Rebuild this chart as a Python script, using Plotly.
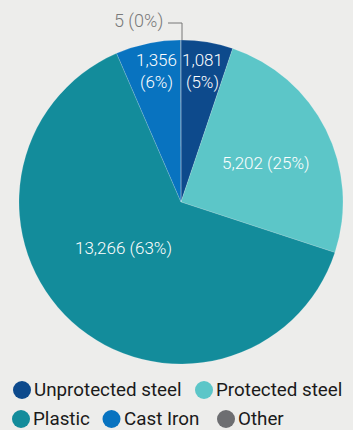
import math
import plotly.graph_objects as go

# Pipe material counts
materials = ["Unprotected steel", "Protected steel", "Plastic", "Cast Iron", "Other"]
counts = [1081, 5202, 13266, 1356, 5]
colors = ["#0d4a8c", "#5cc6c8", "#138c9b", "#0873c0", "#6d6e71"]

W, H = 353, 430
BG = "#ededeb"
FONT = "Roboto"

# Pie placement in pixels
cx, cy, R = 181, 202, 162

# Label placement inside each slice: radial fraction and angular nudge (deg)
label_r = [0.82, 0.58, 0.455, 0.82]
label_nudge = [0, 2, 9, 1.2]
label_two_lines = [True, False, False, True]

fig = go.Figure()
fig.add_trace(go.Pie(
    labels=materials,
    values=counts,
    sort=False,
    direction="clockwise",
    rotation=0,
    marker=dict(colors=colors, line=dict(width=0.5, color="rgba(255,255,255,0.3)")),
    textinfo="none",
    hoverinfo="label+value+percent",
    showlegend=False,
    domain=dict(x=[(cx - R) / W, (cx + R) / W], y=[(H - cy - R) / H, (H - cy + R) / H]),
))

shapes = []
annotations = []

total = sum(counts)

# Value labels placed at each slice's mid angle (clockwise from 12 o'clock)
cum = 0
for i, v in enumerate(counts):
    start = cum
    cum += v
    if i >= len(label_r):
        continue
    mid = (start + cum) / 2 / total * 360 + label_nudge[i]
    rad = math.radians(mid)
    px = cx + label_r[i] * R * math.sin(rad)
    py = cy - label_r[i] * R * math.cos(rad)
    sep = "<br>" if label_two_lines[i] else " "
    txt = f"{v:,}{sep}({v / total:.0%})"
    annotations.append(dict(
        x=px / W, y=1 - py / H, xref="paper", yref="paper",
        xanchor="center", yanchor="middle", showarrow=False,
        text=txt, align="center",
        font=dict(family=FONT, size=17, color="white", weight=300),
    ))

# Callout for the tiny "Other" slice
other_val = counts[-1]
other_txt = f"{other_val:,} ({other_val / total:.0%})"
top_y = cy - R
shapes.append(dict(
    type="path", xref="paper", yref="paper",
    path=f"M {168 / W} {1 - 23 / H} L {(cx + 1) / W} {1 - 23 / H} L {(cx + 1) / W} {1 - top_y / H}",
    line=dict(color="#777777", width=1),
))
annotations.append(dict(
    x=165 / W, y=1 - 21 / H, xref="paper", yref="paper",
    xanchor="right", yanchor="middle", showarrow=False,
    text=other_txt, font=dict(family=FONT, size=18, color="#7a7a7a", weight=300),
))

# Legend drawn as circle markers with labels, two rows
legend_rows = [[0, 1], [2, 3, 4]]
row_y = [390, 419]
row_x = [[22, 204], [21, 111.5, 226]]
r = 9
for ri, row in enumerate(legend_rows):
    for k, idx in enumerate(row):
        x0 = row_x[ri][k]
        y0 = row_y[ri]
        shapes.append(dict(
            type="circle", xref="paper", yref="paper",
            x0=(x0 - r) / W, x1=(x0 + r) / W,
            y0=1 - (y0 + r) / H, y1=1 - (y0 - r) / H,
            fillcolor=colors[idx], line=dict(width=0),
        ))
        annotations.append(dict(
            x=(x0 + r + 1) / W, y=1 - y0 / H, xref="paper", yref="paper",
            xanchor="left", yanchor="middle", showarrow=False,
            text=materials[idx], font=dict(family=FONT, size=18.8, color="#1a1a1a"),
        ))

fig.update_layout(
    width=W, height=H,
    margin=dict(l=0, r=0, t=0, b=0),
    paper_bgcolor=BG, plot_bgcolor=BG,
    shapes=shapes, annotations=annotations,
)

fig.write_html("out.html")
